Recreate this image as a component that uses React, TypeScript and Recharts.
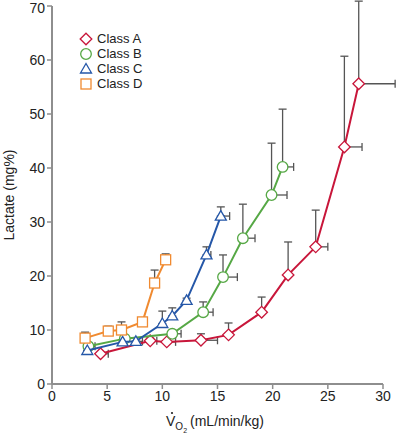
import { ErrorBar, Scatter, ScatterChart, XAxis, YAxis } from 'recharts'

// VO2 (x), lactate (y), one-sided errors: ey = up, ex = right
const classA = [
  { x: 4.4, y: 5.6, ey: [0, 0], ex: [0, 0.7] },
  { x: 8.9, y: 8.0, ey: [0, 0.5], ex: [0, 0.6] },
  { x: 10.4, y: 7.8, ey: [0, 0], ex: [0, 0.8] },
  { x: 13.5, y: 8.1, ey: [0, 1.2], ex: [0, 1.5] },
  { x: 16.0, y: 9.1, ey: [0, 2.2], ex: [0, 0] },
  { x: 19.0, y: 13.3, ey: [0, 2.8], ex: [0, 0] },
  { x: 21.4, y: 20.2, ey: [0, 6.1], ex: [0, 0] },
  { x: 23.9, y: 25.4, ey: [0, 6.8], ex: [0, 1.1] },
  { x: 26.5, y: 43.9, ey: [0, 16.8], ex: [0, 1.6] },
  { x: 27.8, y: 55.6, ey: [0, 15.3], ex: [0, 3.3] },
]
const classB = [
  { x: 3.3, y: 7.0, ey: [0, 0], ex: [0, 0.6] },
  { x: 6.6, y: 8.4, ey: [0, 0.3], ex: [0, 0] },
  { x: 10.9, y: 9.3, ey: [0, 0], ex: [0, 0.8] },
  { x: 13.7, y: 13.3, ey: [0, 1.9], ex: [0, 0.9] },
  { x: 15.5, y: 19.8, ey: [0, 4.1], ex: [0, 1.3] },
  { x: 17.3, y: 27.0, ey: [0, 6.3], ex: [0, 1.1] },
  { x: 19.9, y: 35.0, ey: [0, 9.6], ex: [0, 1.4] },
  { x: 20.9, y: 40.2, ey: [0, 10.7], ex: [0, 1.0] },
]
const classC = [
  { x: 3.2, y: 6.2, ey: [0, 0], ex: [0, 0] },
  { x: 6.4, y: 7.8, ey: [0, 0], ex: [0, 0] },
  { x: 7.6, y: 7.9, ey: [0, 0], ex: [0, 0.6] },
  { x: 10.0, y: 11.2, ey: [0, 2.3], ex: [0, 0] },
  { x: 10.9, y: 12.6, ey: [0, 1.5], ex: [0, 0] },
  { x: 12.2, y: 15.5, ey: [0, 0.4], ex: [0, 0] },
  { x: 14.0, y: 23.9, ey: [0, 1.5], ex: [0, 0.4] },
  { x: 15.3, y: 31.1, ey: [0, 1.7], ex: [0, 0.8] },
]
const classD = [
  { x: 3.0, y: 8.5, ey: [0, 1.1], ex: [0, 0] },
  { x: 5.1, y: 9.8, ey: [0, 0.9], ex: [0, 0] },
  { x: 6.3, y: 10.0, ey: [0, 1.5], ex: [0, 0] },
  { x: 8.2, y: 11.5, ey: [0, 0.8], ex: [0, 0] },
  { x: 9.3, y: 18.7, ey: [0, 2.4], ex: [0, 0] },
  { x: 10.3, y: 23.0, ey: [0, 1.1], ex: [0, 0] },
]
const xTicks = [0, 5, 10, 15, 20, 25, 30]
const yTicks = [0, 10, 20, 30, 40, 50, 60, 70]

const AXIS = '#8e8e8e'
const ERR = '#555'
const FONT = '"Liberation Sans", Arial, sans-serif'

type ShapeKind = 'diamond' | 'circle' | 'triangle' | 'square'

function Marker({ kind, cx, cy, color }: { kind: ShapeKind; cx: number; cy: number; color: string }) {
  const common = { fill: '#fff', stroke: color, strokeWidth: 1.3 }
  if (kind === 'circle') return <circle cx={cx} cy={cy} r={5.3} {...common} />
  if (kind === 'square') return <rect x={cx - 5} y={cy - 5} width={10} height={10} {...common} />
  if (kind === 'triangle')
    return <polygon points={`${cx},${cy - 5.5} ${cx + 5.5},${cy + 4} ${cx - 5.5},${cy + 4}`} {...common} />
  return <polygon points={`${cx},${cy - 5.8} ${cx + 5.8},${cy} ${cx},${cy + 5.8} ${cx - 5.8},${cy}`} {...common} />
}

const series = [
  { name: 'Class A', data: classA, color: '#c8163a', kind: 'diamond' as ShapeKind },
  { name: 'Class B', data: classB, color: '#56a845', kind: 'circle' as ShapeKind },
  { name: 'Class C', data: classC, color: '#2557a8', kind: 'triangle' as ShapeKind },
  { name: 'Class D', data: classD, color: '#f08a30', kind: 'square' as ShapeKind },
]

function LegendBox() {
  return (
    <div style={{ position: 'absolute', top: 31, left: 79, fontFamily: FONT, fontSize: 13, color: '#222' }}>
      {series.map(s => (
        <div key={s.name} style={{ display: 'flex', alignItems: 'center', height: 15 }}>
          <svg width={14} height={14} style={{ marginRight: 4 }}>
            <Marker kind={s.kind} cx={7} cy={7} color={s.color} />
          </svg>
          <span>{s.name}</span>
        </div>
      ))}
    </div>
  )
}

export default function App() {
  return (
    <div style={{ position: 'absolute', left: 0, top: 0, width: 396, height: 435, background: '#fff' }}>
      {/* error bars run past the 70 / 30 limits in the source figure */}
      <style>{'.recharts-surface g[clip-path]{clip-path:none !important}'}</style>
      <ScatterChart width={396} height={435} margin={{ top: 6, right: 13, left: 0, bottom: 0 }}>
        <XAxis
          type="number" dataKey="x" domain={[0, 30]} ticks={xTicks} height={51} allowDataOverflow
          tickSize={5} tick={{ fontSize: 14, fill: '#222', fontFamily: FONT }}
          axisLine={{ stroke: AXIS, strokeWidth: 2 }} tickLine={{ stroke: AXIS, strokeWidth: 1.5 }}
          label={{
            content: () => (
              <g fontFamily={FONT} fill="#222">
                <circle cx={172} cy={413} r={1.1} fill="#222" />
                <text x={166} y={426} fontSize={14}>
                  <tspan>V</tspan>
                  <tspan fontSize={10} dy={4}>O</tspan>
                  <tspan fontSize={7} dy={3}>2</tspan>
                  <tspan fontSize={14} dy={-7} dx={3}>(mL/min/kg)</tspan>
                </text>
              </g>
            ),
          }}
        />
        <YAxis
          type="number" dataKey="y" domain={[0, 70]} ticks={yTicks} width={52} allowDataOverflow
          tickSize={5} tick={{ fontSize: 14, fill: '#222', fontFamily: FONT }}
          axisLine={{ stroke: AXIS, strokeWidth: 2 }} tickLine={{ stroke: AXIS, strokeWidth: 1.5 }}
          label={{
            content: () => (
              <text x={14} y={195} transform="rotate(-90, 14, 195)" textAnchor="middle"
                fontSize={14} fontFamily={FONT} fill="#222">
                Lactate (mg%)
              </text>
            ),
          }}
        />
        {/* error bars first so the hollow markers sit on top of them */}
        {series.map(s => (
          <Scatter key={s.name + '-err'} data={s.data} isAnimationActive={false} shape={() => <g />}>
            <ErrorBar dataKey="ey" direction="y" width={4} stroke={ERR} strokeWidth={1.3} />
            <ErrorBar dataKey="ex" direction="x" width={4} stroke={ERR} strokeWidth={1.3} />
          </Scatter>
        ))}
        {series.map(s => (
          <Scatter
            key={s.name} name={s.name} data={s.data} fill="#fff" isAnimationActive={false}
            line={{ stroke: s.color, strokeWidth: 2 }}
            shape={(p: any) => <Marker kind={s.kind} cx={p.cx} cy={p.cy} color={s.color} />}
          />
        ))}
      </ScatterChart>
      <LegendBox />
    </div>
  )
}
